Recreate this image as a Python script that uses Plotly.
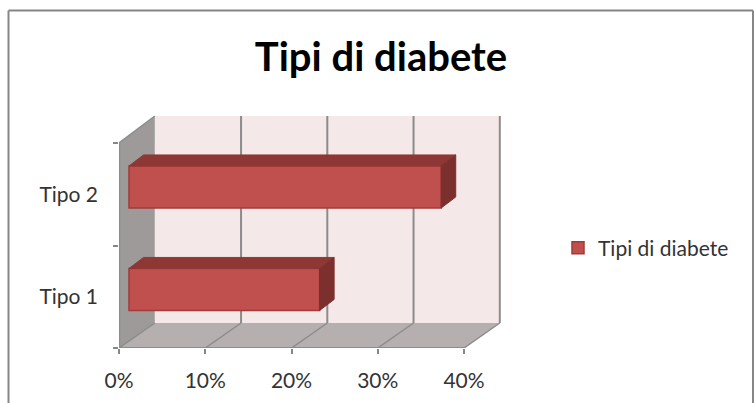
import plotly.graph_objects as go

categories = ["Tipo 1", "Tipo 2"]
values = [22.1, 36.2]
series_name = "Tipi di diabete"
x_ticks = [0, 10, 20, 30, 40]
x_labels = ["0%", "10%", "20%", "30%", "40%"]
y_positions = [0.5, 1.5]
y_edges = [0, 1, 2]

W, H = 755, 403
L, R, T, B = 119, 505, 112, 348
xmax = (R - L) / 8.625
ymax = (B - T) / 102.5
DX, DY, DYT = 35.8 / 8.625, 25 / 102.5, 27 / 102.5   # wall depth (bottom / top edge)
OX, OY = 10 / 8.625, 7.3 / 102.5                     # bar offset
BX, BY = 14.5 / 8.625, 11 / 102.5                    # bar depth
BW = 42 / 102.5

GRID = "#8c8c8c"
px = lambda p: (p - L) / (R - L)
py = lambda p: (B - p) / (B - T)


def poly(pts, fill):
    path = "M" + " L".join(f"{a},{b}" for a, b in pts) + " Z"
    return dict(type="path", path=path, fillcolor=fill, line=dict(width=0),
                xref="x", yref="y", layer="below")


def line(x0, y0, x1, y1, xref="x", yref="y", color=GRID, width=1.5):
    return dict(type="line", x0=x0, y0=y0, x1=x1, y1=y1, xref=xref, yref=yref,
                line=dict(color=color, width=width), layer="below")


shapes = [
    poly([(DX, DY), (40 + DX, DY), (40 + DX, 2 + DYT), (DX, 2 + DYT)], "#F4E8E8"),
    poly([(0, 0), (DX, DY), (DX, 2 + DYT), (0, 2)], "#9E9A9A"),
    poly([(0, 0), (40, 0), (40 + DX, DY), (DX, DY)], "#B6AFAF"),
]
for t in x_ticks:
    shapes.append(line(t, 0, t + DX, DY))
    if t:
        shapes.append(line(t + DX, DY, t + DX, 2 + DYT, width=2))
shapes += [
    line(0, 0, 0, 2, xref="x", width=2.5),
    line(0, 2, DX, 2 + DYT),
    line(0, 0, 40, 0, yref="y", width=2),
]
# outer chart frame
shapes += [
    line(px(8.5), py(10.5), px(8.5), py(410), "paper", "paper", "#868686", 2),
    line(px(8.5), py(10.5), px(753), py(10.5), "paper", "paper", "#868686", 2),
    line(px(753), py(10.5), px(753), py(410), "paper", "paper", "#868686", 2),
]

fig = go.Figure()
for i, v in enumerate(values):
    y0 = y_positions[i] + OY - BW / 2
    y1 = y0 + BW
    xr = OX + v
    fig.add_trace(go.Scatter(
        x=[OX, xr, xr + BX, OX + BX, OX], y=[y1, y1, y1 + BY, y1 + BY, y1],
        mode="lines", fill="toself", fillcolor="#8E3836",
        line=dict(color="#8E3836", width=1), showlegend=False, hoverinfo="skip"))
    fig.add_trace(go.Scatter(
        x=[xr, xr + BX, xr + BX, xr, xr], y=[y0, y0 + BY, y1 + BY, y1, y0],
        mode="lines", fill="toself", fillcolor="#7C302E",
        line=dict(color="#7C302E", width=1), showlegend=False, hoverinfo="skip"))

fig.add_trace(go.Bar(
    x=values, y=[p + OY for p in y_positions], base=OX, width=BW, orientation="h",
    name=series_name, marker=dict(color="#C0504D", line=dict(color="#A13B39", width=1.5)),
    showlegend=True))

FONT = "Lato, Carlito, Calibri, sans-serif"
fig.update_layout(
    width=W, height=H, autosize=False,
    margin=dict(l=L, r=W - R, t=T, b=H - B, pad=0),
    paper_bgcolor="white", plot_bgcolor="white",
    font=dict(family=FONT, size=21, color="#333333"),
    title=dict(text="Tipi di diabete", x=381 / W, xanchor="center", y=1 - 57 / H, yanchor="middle",
               font=dict(family=FONT, size=40, color="black", weight="bold")),
    xaxis=dict(range=[0, xmax], tickvals=x_ticks, ticktext=x_labels, showgrid=False, zeroline=False,
               ticks="outside", ticklen=5, tickwidth=2, tickcolor="#868686", showline=False,
               ticklabelstandoff=9),
    yaxis=dict(range=[0, ymax], tickvals=y_positions, ticktext=categories, showgrid=False, zeroline=False,
               ticks="", showline=False, ticklabelstandoff=20,
               minor=dict(tickvals=y_edges, ticks="outside", ticklen=5, tickwidth=2, tickcolor="#868686", showgrid=False)),
    legend=dict(x=px(558), y=py(248), xanchor="left", yanchor="middle", bgcolor="rgba(0,0,0,0)",
                itemwidth=30, font=dict(family=FONT, size=21, color="#333333")),
    shapes=shapes,
    barmode="overlay",
)
fig.write_html("out.html", config={"displayModeBar": False},
               post_script="document.body.style.margin='0';")
